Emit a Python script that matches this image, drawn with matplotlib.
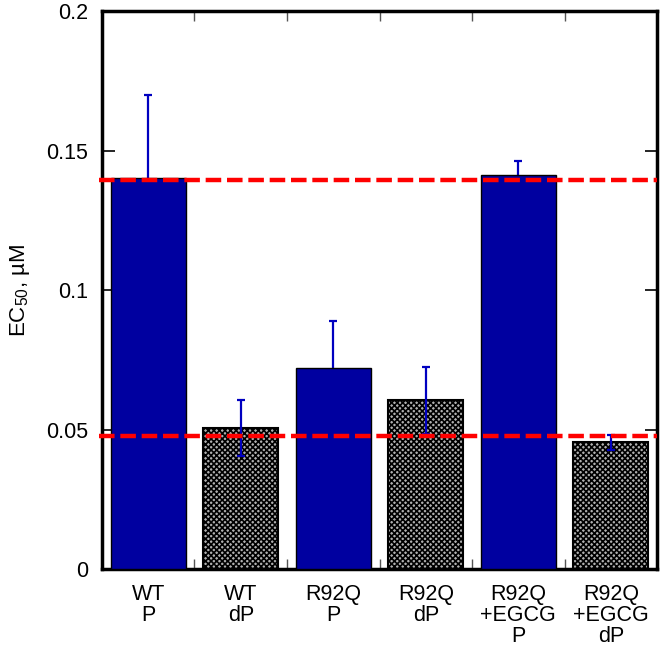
import matplotlib
matplotlib.use("Agg")
from matplotlib import pyplot as plt
import numpy as np

plt.rcParams['font.family'] = ['Liberation Sans', 'DejaVu Sans']
plt.rcParams['mathtext.fontset'] = 'custom'
plt.rcParams['mathtext.rm'] = 'Liberation Sans'
plt.rcParams['hatch.linewidth'] = 1.2

labels = ["WT\nP", "WT\ndP", "R92Q\nP", "R92Q\ndP", "R92Q\n+EGCG\nP", "R92Q\n+EGCG\ndP"]
ec50 = [0.140, 0.0505, 0.072, 0.0605, 0.1412, 0.0455]
err = [0.030, 0.010, 0.017, 0.012, 0.005, 0.0027]
phospho = [True, False, True, False, True, False]
ref_lines = [0.1395, 0.0478]

fig = plt.figure(figsize=(6.61, 6.5), dpi=100)
ax = fig.add_axes([0.1543, 0.1246, 0.8397, 0.8584])

x = np.arange(len(labels))
for i in x:
    if phospho[i]:
        # blue bars sit above the error bars, so only the upper half shows
        ax.bar(i, ec50[i], width=0.81, color="#0000a0", edgecolor="black", linewidth=1.0, zorder=4)
    else:
        ax.bar(i, ec50[i], width=0.81, facecolor="#b0b0b0", edgecolor="black", hatch="xxxxxx",
               linewidth=1.5, zorder=2)
ax.errorbar(x, ec50, yerr=err, fmt="none", ecolor="#0000c0", elinewidth=1.6,
            capsize=3, capthick=1.6, zorder=3)

for y in ref_lines:
    ax.axhline(y, xmin=-0.005, color="red", linestyle=(0, (3.5, 1.3)), linewidth=3.2,
               zorder=5, clip_on=False)

ax.set_xlim(-0.5, len(labels) - 0.5)
ax.set_ylim(0, 0.2)
ax.set_yticks([0, 0.05, 0.1, 0.15, 0.2])
ax.set_yticklabels(["0", "0.05", "0.1", "0.15", "0.2"])
ax.set_xticks(x)
ax.set_xticklabels(labels, linespacing=1.0)
ax.set_xticks(np.arange(0.5, len(labels) - 0.5, 1), minor=True)
ax.tick_params(axis="x", which="major", length=0, pad=11, labelsize=15.5)
ax.tick_params(axis="x", which="minor", direction="in", length=7, width=1, color="#555555",
               top=True, bottom=True)
ax.tick_params(axis="y", which="major", direction="in", length=9, width=1.2,
               left=True, right=True, labelsize=15.5, pad=10)
for s in ax.spines.values():
    s.set_linewidth(2.5)

ax.set_ylabel(r"EC$_{\mathrm{50}}$, µM", fontsize=16, labelpad=10)

fig.savefig("out.png", dpi=100)
